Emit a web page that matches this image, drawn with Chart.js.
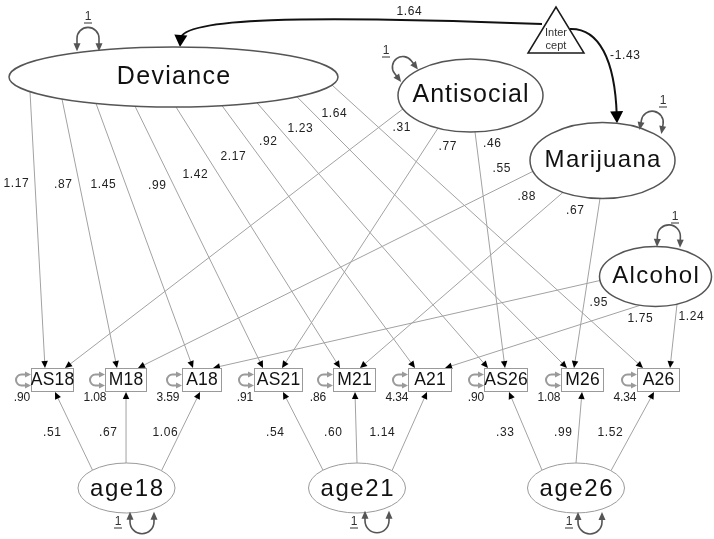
<!DOCTYPE html>
<html><head><meta charset="utf-8">
<script src="https://cdn.jsdelivr.net/npm/chart.js@4/dist/chart.umd.min.js"></script>
<style>html,body{margin:0;padding:0;background:#fff}#wrap{width:714px;height:539px;position:relative}</style>
</head><body><div id="wrap"><canvas id="c"></canvas></div>
<script>
// ================= DATA =================
const latentNames = ['Deviance', 'Antisocial', 'Marijuana', 'Alcohol'];
const indicatorNames = ['AS18', 'M18', 'A18', 'AS21', 'M21', 'A21', 'AS26', 'M26', 'A26'];
const ageNames = ['age18', 'age21', 'age26'];
const devianceLoadings = [1.17, 0.87, 1.45, 0.99, 1.42, 2.17, 0.92, 1.23, 1.64];
const antisocialLoadings = [0.31, 0.77, 0.46];   // -> AS18, AS21, AS26
const marijuanaLoadings = [0.55, 0.88, 0.67];    // -> M18, M21, M26
const alcoholLoadings = [0.95, 1.75, 1.24];      // -> A18, A21, A26
const age18Loadings = [0.51, 0.67, 1.06];        // -> AS18, M18, A18
const age21Loadings = [0.54, 0.60, 1.14];        // -> AS21, M21, A21
const age26Loadings = [0.33, 0.99, 1.52];        // -> AS26, M26, A26
const residualVariances = [0.90, 1.08, 3.59, 0.91, 0.86, 4.34, 0.90, 1.08, 4.34];
const interceptMeans = [1.64, -1.43];            // -> Deviance, -> Marijuana
const latentVariances = [1, 1, 1, 1];
const ageVariances = [1, 1, 1];
const interceptText = ['Inter', 'cept'];

// structure (which indicator each path points to)
const latentTargets = [[0,1,2,3,4,5,6,7,8], [0,3,6], [1,4,7], [2,5,8]];
const ageTargets = [[0,1,2], [3,4,5], [6,7,8]];

// ================= LAYOUT (positions / sizes / styles) =================
const FONT = '"Liberation Sans", Arial, sans-serif';
const latentLayout = [
  {x:173.5, y:77,    rx:164.5, ry:30,   font:25, sp:1.3},
  {x:470.5, y:95.5,  rx:72.5,  ry:36.5, font:25, sp:1.0},
  {x:602.5, y:160.5, rx:72.5,  ry:38,   font:24, sp:1.3},
  {x:655.5, y:276.5, rx:56,    ry:30,   font:24, sp:1.3}
];
const ageLayout = [
  {x:126.5, y:488, rx:48.5, ry:25},
  {x:357,   y:488, rx:48.5, ry:25},
  {x:576,   y:488, rx:48.5, ry:25}
];
const boxLayout = {cx:[52.5,126,202,278.5,354.5,430,506,582.5,658.5], w:[43,42,40,49,43,44,44,43,43], top:368, h:24};
const latentPortDx = [[-143.5,-111.5,-77.5,-38.5,2.5,48.5,83.5,123.5,158.5], [-67.5,-32.5,4.5], [-69.5,-39.5,-2.5], [-55.5,-15.5,21.5]];
const latentBoxPortDx = [[-7.5,-9,-9,-15.5,-14.5,-15,-18,-15.5,-15.5], [12.5,3.5,-1], [12,5.5,-8.5], [11,15,11.5]];
const latentLabelPos = [
  [[16,184],[63,185],[103,185],[157,186],[195,175],[233,157],[268,142],[300,129],[334,114]],
  [[401.5,128],[447.5,147],[492,144]],
  [[501.5,169],[526.5,197],[575,211]],
  [[598.5,303],[640,319],[691,317]]
];
const agePortDx = [-34, 0, 35];
const ageBoxPortDx = [[2.5,0,-2],[4.5,0.5,-3],[3,-0.5,-4.5]];
const ageLabelPos = [[[52,433],[108,433],[165,433]], [[275,433],[333,433],[382,433]], [[505,433],[563,433],[610,433]]];
const residualLabelPos = [[22,398],[95,398],[168,398],[245,398],[318,398],[397,398],[476,398],[549,398],[625,398]];
// variance loops: anchor dx on node, side, outward direction (deg), radius, stem, "1" label position
const latentLoops = [
  {dx:-85.5, side:-1, dir:-90,  r:11,  h:13, lab:[88,17]},
  {dx:-61,   side:-1, dir:-127, r:10.5,h:11, lab:[386,51]},
  {dx:48,    side:-1, dir:-80,  r:11,  h:10, lab:[663,101]},
  {dx:13,    side:-1, dir:-88,  r:11.5,h:11, lab:[675,217]}
];
const ageLoops = [
  {dx:15.5, side:1, dir:90, r:12, h:10, lab:[118,522]},
  {dx:20,   side:1, dir:90, r:12, h:10, lab:[354,522]},
  {dx:14,   side:1, dir:90, r:12, h:10, lab:[569,522]}
];
const triangleLayout = {top:[556,7], left:[528,53], right:[584,53], text:[[556,33],[556,46]]};
const interceptCurves = [
  {target:0, tipDx:6.5,  c:[[542,24],[300,15],[182,18]], lab:[409,12]},
  {target:2, tipDx:14.5, c:[[570,29],[599,28],[615,60]], lab:[625,56]}
];

// ================= helpers =================
function fmt(v) {
  let s = Math.abs(v).toFixed(2);
  if (Math.abs(v) < 1) s = s.replace(/^0/, '');
  return (v < 0 ? '-' : '') + s;
}
function ellY(n, dx, side) {
  const k = Math.max(0, 1 - (dx / n.rx) ** 2);
  return n.y + side * n.ry * Math.sqrt(k);
}

// build straight paths
const latentLoadingsAll = [devianceLoadings, antisocialLoadings, marijuanaLoadings, alcoholLoadings];
const ageLoadingsAll = [age18Loadings, age21Loadings, age26Loadings];
const edges = [];
latentLoadingsAll.forEach((vals, li) => {
  const n = latentLayout[li];
  vals.forEach((v, k) => {
    const b = latentTargets[li][k];
    const sx = n.x + latentPortDx[li][k];
    edges.push({x1:sx, y1:ellY(n, latentPortDx[li][k], 1),
                x2:boxLayout.cx[b] + latentBoxPortDx[li][k], y2:boxLayout.top,
                label:fmt(v), lx:latentLabelPos[li][k][0], ly:latentLabelPos[li][k][1], lf:12});
  });
});
ageLoadingsAll.forEach((vals, ai) => {
  const n = ageLayout[ai];
  vals.forEach((v, k) => {
    const b = ageTargets[ai][k];
    edges.push({x1:n.x + agePortDx[k], y1:ellY(n, agePortDx[k], -1),
                x2:boxLayout.cx[b] + ageBoxPortDx[ai][k], y2:boxLayout.top + boxLayout.h,
                label:fmt(v), lx:ageLabelPos[ai][k][0], ly:ageLabelPos[ai][k][1], lf:12});
  });
});
const HEAD = 7;
const datasets = edges.map(e => {
  const dx = e.x2 - e.x1, dy = e.y2 - e.y1, d = Math.hypot(dx, dy);
  return {
    data: [{x:e.x1, y:e.y1}, {x:e.x2 - dx / d * HEAD * 0.7, y:e.y2 - dy / d * HEAD * 0.7}],
    showLine: true, borderColor: '#a2a2a2', borderWidth: 1, pointRadius: 0, clip: false, tension: 0
  };
});

// ================= drawing plugin =================
const diagram = {
  id: 'diagram',
  afterDatasetsDraw(chart) {
    const ctx = chart.ctx, xs = chart.scales.x, ys = chart.scales.y;
    const X = v => xs.getPixelForValue(v), Y = v => ys.getPixelForValue(v);
    const S = Math.abs(X(1) - X(0));
    ctx.save();

    function head(tx, ty, ux, uy, len, wid, color) {
      ctx.beginPath();
      ctx.moveTo(tx, ty);
      ctx.lineTo(tx - ux * len - uy * wid / 2, ty - uy * len + ux * wid / 2);
      ctx.lineTo(tx - ux * len + uy * wid / 2, ty - uy * len - ux * wid / 2);
      ctx.closePath();
      ctx.fillStyle = color; ctx.fill();
    }
    function text(t, x, y, size, color, sp, weight) {
      ctx.font = (weight || '') + ' ' + size * S + 'px ' + FONT;
      ctx.letterSpacing = (sp || 0) + 'px';
      ctx.fillStyle = color; ctx.textAlign = 'center'; ctx.textBaseline = 'middle';
      ctx.fillText(t, X(x) + (sp || 0) / 2, Y(y));
      ctx.letterSpacing = '0px';
    }
    function ellipse(n, stroke, lw) {
      ctx.beginPath();
      ctx.ellipse(X(n.x), Y(n.y), n.rx * S, n.ry * S, 0, 0, Math.PI * 2);
      ctx.fillStyle = '#fff'; ctx.fill();
      ctx.strokeStyle = stroke; ctx.lineWidth = lw; ctx.stroke();
    }
    function loop(ax, ay, dirDeg, r, h, color, lw, hl, hw) {
      const d = dirDeg * Math.PI / 180, ux = Math.cos(d), uy = Math.sin(d), px = -uy, py = ux;
      const A = [X(ax), Y(ay)], R = r * S, H = h * S;
      const C = [A[0] + ux * H, A[1] + uy * H];
      ctx.beginPath();
      ctx.moveTo(A[0] + px * R + ux * hl * 0.8, A[1] + py * R + uy * hl * 0.8);
      ctx.lineTo(C[0] + px * R, C[1] + py * R);
      ctx.arc(C[0], C[1], R, d + Math.PI / 2, d - Math.PI / 2, true);
      ctx.lineTo(A[0] - px * R + ux * hl * 0.8, A[1] - py * R + uy * hl * 0.8);
      ctx.strokeStyle = color; ctx.lineWidth = lw; ctx.stroke();
      head(A[0] + px * R, A[1] + py * R, -ux, -uy, hl, hw, color);
      head(A[0] - px * R, A[1] - py * R, -ux, -uy, hl, hw, color);
    }
    function underlinedOne(v, x, y) {
      text(String(v), x, y, 12, '#333');
      ctx.beginPath(); ctx.moveTo(X(x - 4), Y(y + 6)); ctx.lineTo(X(x + 4), Y(y + 6));
      ctx.strokeStyle = '#333'; ctx.lineWidth = 1; ctx.stroke();
    }

    // arrowheads of straight paths
    edges.forEach(e => {
      const dx = e.x2 - e.x1, dy = e.y2 - e.y1, d = Math.hypot(dx, dy);
      head(X(e.x2), Y(e.y2), dx / d, dy / d, HEAD, 6.5, '#000');
    });

    // intercept curves
    interceptCurves.forEach((c, i) => {
      const n = latentLayout[c.target];
      const tip = [n.x + c.tipDx, ellY(n, c.tipDx, -1)];
      const dx = tip[0] - c.c[2][0], dy = tip[1] - c.c[2][1], d = Math.hypot(dx, dy);
      const end = [tip[0] - dx / d * 8, tip[1] - dy / d * 8];
      ctx.beginPath();
      ctx.moveTo(X(c.c[0][0]), Y(c.c[0][1]));
      ctx.bezierCurveTo(X(c.c[1][0]), Y(c.c[1][1]), X(c.c[2][0]), Y(c.c[2][1]), X(end[0]), Y(end[1]));
      ctx.strokeStyle = '#111'; ctx.lineWidth = 2; ctx.stroke();
      head(X(tip[0]), Y(tip[1]), dx / d, dy / d, 12, 13, '#000');
      text(fmt(interceptMeans[i]), c.lab[0], c.lab[1], 12, '#222', 0.6);
    });

    // intercept triangle
    const T = triangleLayout;
    ctx.beginPath();
    ctx.moveTo(X(T.top[0]), Y(T.top[1])); ctx.lineTo(X(T.left[0]), Y(T.left[1])); ctx.lineTo(X(T.right[0]), Y(T.right[1])); ctx.closePath();
    ctx.fillStyle = '#fff'; ctx.fill(); ctx.strokeStyle = '#1a1a1a'; ctx.lineWidth = 1.5; ctx.stroke();
    interceptText.forEach((t, i) => text(t, T.text[i][0], T.text[i][1], 11, '#333', 0));

    // latent ellipses
    latentLayout.forEach((n, i) => {
      ellipse(n, '#555', 1.5);
      text(latentNames[i], n.x, n.y, n.font, '#111', n.sp);
      const lp = latentLoops[i];
      loop(n.x + lp.dx, ellY(n, lp.dx, lp.side), lp.dir, lp.r, lp.h, '#555', 1.6, 8, 7);
      underlinedOne(latentVariances[i], lp.lab[0], lp.lab[1]);
    });

    // age ellipses
    ageLayout.forEach((n, i) => {
      ellipse(n, '#9a9a9a', 1);
      text(ageNames[i], n.x, n.y + 1, 24, '#111', 1.6);
      const lp = ageLoops[i];
      loop(n.x + lp.dx, ellY(n, lp.dx, lp.side), lp.dir, lp.r, lp.h, '#555', 1.6, 8, 7);
      underlinedOne(ageVariances[i], lp.lab[0], lp.lab[1]);
    });

    // indicator boxes
    indicatorNames.forEach((nm, i) => {
      const cx = boxLayout.cx[i], w = boxLayout.w[i], t = boxLayout.top, h = boxLayout.h;
      ctx.fillStyle = '#fff';
      ctx.fillRect(X(cx - w / 2), Y(t), w * S, h * S);
      ctx.strokeStyle = '#9a9a9a'; ctx.lineWidth = 1;
      ctx.strokeRect(X(cx - w / 2) + 0.5, Y(t) + 0.5, w * S - 1, h * S - 1);
      text(nm, cx, t + h / 2 + 0.5, 17.5, '#111', 0.2);
      loop(cx - w / 2, t + h / 2, 180, 5.5, 9.5, '#9a9a9a', 2, 6, 6);
      text(fmt(residualVariances[i]), residualLabelPos[i][0], residualLabelPos[i][1], 12, '#222', -0.2);
    });

    // path coefficient labels
    edges.forEach(e => text(e.label, e.lx, e.ly, e.lf, '#222', 0.6));

    ctx.restore();
  }
};

new Chart(document.getElementById('c'), {
  type: 'scatter',
  data: { datasets },
  options: {
    responsive: true, maintainAspectRatio: false, animation: false, events: [],
    layout: { padding: 0 },
    plugins: { legend: { display: false }, tooltip: { enabled: false } },
    scales: {
      x: { type: 'linear', min: 0, max: 714, display: false },
      y: { type: 'linear', min: 0, max: 539, reverse: true, display: false }
    }
  },
  plugins: [diagram]
});
</script>
</body></html>
